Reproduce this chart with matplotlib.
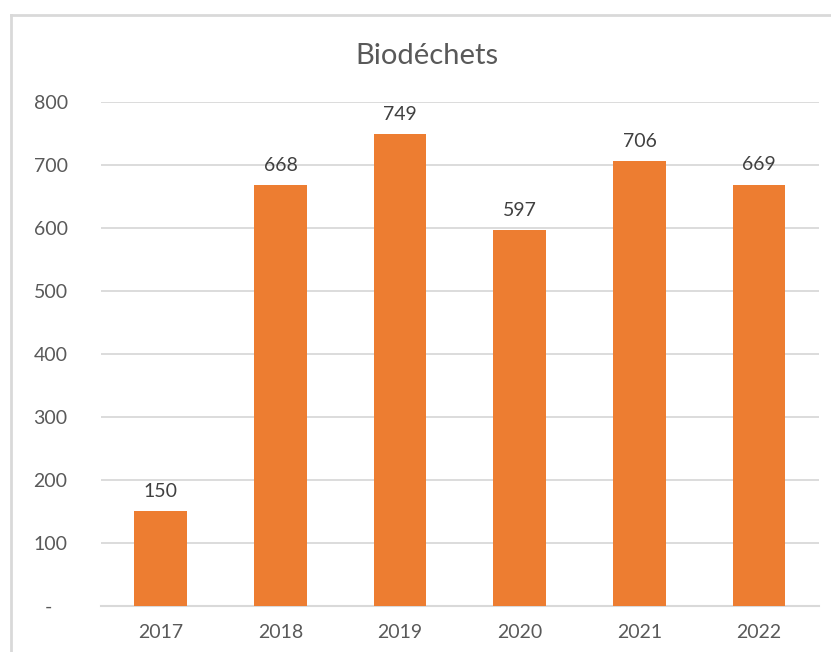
import matplotlib.pyplot as plt
from matplotlib.ticker import FixedLocator, FixedFormatter

plt.rcParams['font.family'] = ['Lato', 'DejaVu Sans']

years = ['2017', '2018', '2019', '2020', '2021', '2022']
values = [150, 668, 749, 597, 706, 669]
yticks = [0, 100, 200, 300, 400, 500, 600, 700, 800]
ytick_labels = ['-   ', '100', '200', '300', '400', '500', '600', '700', '800']

fig = plt.figure(figsize=(8.31, 6.52), dpi=100)
ax = fig.add_axes([0.1215, 0.0706, 0.864, 0.773])

# chart border (only left and top visible)
fig.add_artist(plt.Line2D([10.5 / 831, 10.5 / 831], [0, 1 - 15 / 652],
                          transform=fig.transFigure, color='#d9d9d9', lw=2))
fig.add_artist(plt.Line2D([10.5 / 831, 1], [1 - 15 / 652, 1 - 15 / 652],
                          transform=fig.transFigure, color='#d9d9d9', lw=2))

x = range(len(years))
ax.bar(x, values, width=0.44, color='#ED7D31', zorder=3)

for xi, v in zip(x, values):
    ax.annotate(str(v), (xi, v), xytext=(0, 8), textcoords='offset points',
                ha='center', va='bottom', fontsize=14, color='#404040')

ax.set_xlim(-0.5, len(years) - 0.5)
ax.set_ylim(0, 800)
ax.yaxis.set_major_locator(FixedLocator(yticks))
ax.yaxis.set_major_formatter(FixedFormatter(ytick_labels))
ax.set_xticks(list(x))
ax.set_xticklabels(years)
ax.grid(axis='y', color='#d9d9d9', lw=1.3, zorder=0)
for s in ['top', 'right', 'left']:
    ax.spines[s].set_visible(False)
ax.spines['bottom'].set_color('#d9d9d9')
ax.spines['bottom'].set_linewidth(1.5)
ax.tick_params(axis='both', length=0, labelsize=14, colors='#595959')
ax.tick_params(axis='y', pad=24)
ax.tick_params(axis='x', pad=13)

fig.text(0.514, 1 - 56 / 652, 'Biodéchets', ha='center', va='center',
         fontsize=21, color='#595959')

fig.savefig('out.png', dpi=100)
